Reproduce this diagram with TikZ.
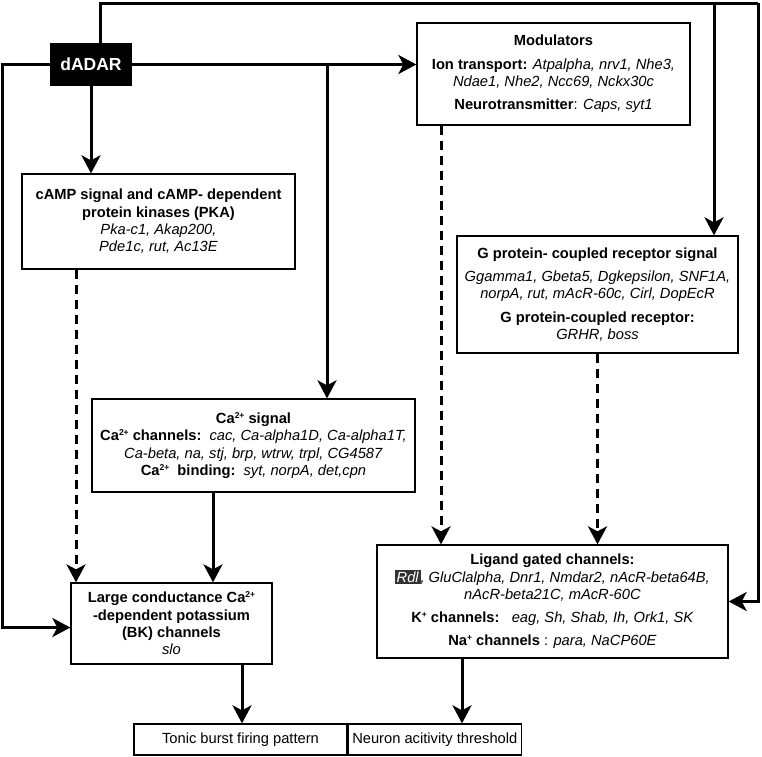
\documentclass[tikz,border=0pt]{standalone}
\usepackage{fontspec}
\setmainfont{Liberation Sans}
\usetikzlibrary{arrows.meta}
\newcommand{\rdlbox}{{\setlength{\fboxsep}{1.5pt}\colorbox[HTML]{333333}{\color{white}\textit{Rdl}}}}
\newcommand{\chg}[1]{\raisebox{5pt}{\fontsize{8.5}{9}\selectfont #1}}
\begin{document}
\begin{tikzpicture}[x=1pt,y=1pt,
  box/.style={draw=black, line width=1.3pt, align=center, inner sep=0pt,
    font=\fontsize{14.7}{17.3}\selectfont},
  conn/.style={line width=3pt, -{Stealth[length=18pt,width=19pt,inset=5pt]}},
  dconn/.style={conn, dash pattern=on 9pt off 6pt},
  plain/.style={line width=3pt}]
\useasboundingbox (0,0) rectangle (762,-756);
\fill[white] (0,0) rectangle (762,-756);

\node[fill=black, text=white, font=\fontsize{17.5}{20}\selectfont\bfseries,
  minimum width=82pt, minimum height=43pt, inner sep=0pt] (dadar) at (91,-64.5) {dADAR};

\node[box, minimum width=273pt, minimum height=102pt] (mod) at (553.5,-74)
 {\textbf{Modulators}\\[6pt]
  \textbf{Ion transport:} \textit{Atpalpha, nrv1, Nhe3,}\\
  \textit{Ndae1, Nhe2, Ncc69, Nckx30c}\\[6pt]
  \textbf{Neurotransmitter}: \textit{Caps, syt1}};

\node[box, minimum width=273pt, minimum height=95pt] (camp) at (158.5,-221.5)
 {\textbf{cAMP signal and cAMP- dependent}\\
  \textbf{protein kinases (PKA)}\\
  \textit{Pka-c1, Akap200,}\\
  \textit{Pde1c, rut, Ac13E}};

\node[box, minimum width=281pt, minimum height=117pt] (gpcr) at (597.5,-294.5)
 {\textbf{G protein- coupled receptor signal}\\[6pt]
  \textit{Ggamma1, Gbeta5, Dgkepsilon, SNF1A,}\\
  \textit{norpA, rut, mAcR-60c, Cirl, DopEcR}\\[6pt]
  \textbf{G protein-coupled receptor:}\\
  \textit{GRHR, boss}};

\node[box, minimum width=323pt, minimum height=93pt] (ca) at (253.5,-445.5)
 {\textbf{Ca\chg{2+} signal}\\
  \textbf{Ca\chg{2+} channels:}\ \ \textit{cac, Ca-alpha1D, Ca-alpha1T,}\\
  \textit{Ca-beta, na, stj, brp, wtrw, trpl, CG4587}\\
  \textbf{Ca\chg{2+}\ \ binding:}\ \ \textit{syt, norpA, det,cpn}};

\node[box, minimum width=351pt, minimum height=113pt] (lig) at (552.5,-601.5)
 {\textbf{Ligand gated channels:}\\
  \rdlbox\textit{, GluClalpha, Dnr1, Nmdar2, nAcR-beta64B,}\\
  \textit{nAcR-beta21C, mAcR-60C}\\[6pt]
  \textbf{K\chg{+} channels:}\ \ \ \textit{eag, Sh, Shab, Ih, Ork1, SK}\\[6pt]
  \textbf{Na\chg{+} channels} : \textit{para, NaCP60E}};

\node[box, minimum width=201pt, minimum height=81pt] (bk) at (171.5,-623.5)
 {\textbf{Large conductance Ca\chg{2+}}\\
  \textbf{-dependent potassium}\\
  \textbf{(BK) channels}\\
  \textit{slo}};

\node[box, minimum width=213pt, minimum height=31pt] (tonic) at (240.5,-739.5)
 {Tonic burst firing pattern};
\node[box, minimum width=173pt, minimum height=31pt, anchor=west] (neuron) at (tonic.east)
 {Neuron acitivity threshold};

% coordinates for branches
\coordinate (b1) at (327,-64.5);
\coordinate (tl) at (100,-3);
\coordinate (tr) at (758,-3);
\coordinate (b2) at (714,-3);

% connectors
\draw[conn] (dadar.east) -- (mod.west |- dadar.east);
\draw[conn] (b1) -- (b1 |- ca.north);
\draw[conn] (dadar.west) -- ++(-47,0) |- ([yshift=-4pt]bk.west);
\draw[conn] (dadar.south) -- (dadar.south |- camp.north);
\draw[plain, line join=miter] ([xshift=9pt]dadar.north) -- (tl) -- (tr);
\draw[conn] (tr) |- (lig.east);
\draw[conn] (b2) -- (b2 |- gpcr.north);

\draw[dconn] (76,0 |- camp.south) -- (76,0 |- bk.north);
\draw[dconn] (441,0 |- mod.south) -- (441,0 |- lig.north);
\draw[dconn] (gpcr.south) -- (gpcr.south |- lig.north);
\draw[conn] (213,0 |- ca.south) -- (213,0 |- bk.north);
\draw[conn] (242,0 |- bk.south) -- (242,0 |- tonic.north);
\draw[conn] (462,0 |- lig.south) -- (462,0 |- neuron.north);
\end{tikzpicture}
\end{document}
